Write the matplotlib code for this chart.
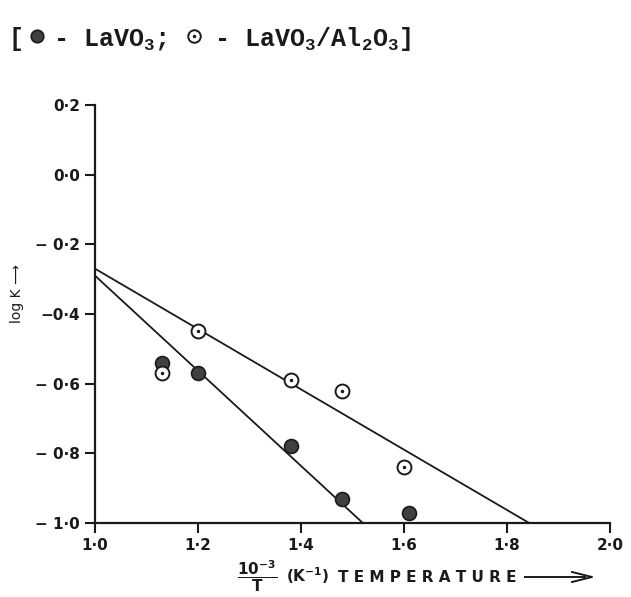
import matplotlib.pyplot as plt

# data
x_lavo3 = [1.13, 1.20, 1.38, 1.48, 1.61]
logk_lavo3 = [-0.54, -0.57, -0.78, -0.93, -0.97]

x_al2o3 = [1.13, 1.20, 1.38, 1.48, 1.60]
logk_al2o3 = [-0.57, -0.45, -0.59, -0.62, -0.84]

# hand drawn straight lines (end points)
fit_lavo3_x = [1.0, 1.52]
fit_lavo3_y = [-0.29, -1.0]
fit_al2o3_x = [1.0, 1.843]
fit_al2o3_y = [-0.27, -1.0]

xticks = [1.0, 1.2, 1.4, 1.6, 1.8, 2.0]
xtick_labels = ["1·0", "1·2", "1·4", "1·6", "1·8", "2·0"]
yticks = [-1.0, -0.8, -0.6, -0.4, -0.2, 0.0, 0.2]
ytick_labels = ["− 1·0", "− 0·8", "− 0·6", "−0·4", "− 0·2", "0·0", "0·2"]

ink = '#1a1a1a'
dark = '#404040'

plt.rcParams['mathtext.fontset'] = 'custom'
plt.rcParams['mathtext.rm'] = 'Liberation Mono:bold'
plt.rcParams['mathtext.it'] = 'Liberation Mono:bold'
plt.rcParams['mathtext.tt'] = 'Liberation Mono:bold'

fig = plt.figure(figsize=(6.31, 5.97), dpi=100)
ax = fig.add_axes([0.1506, 0.1240, 0.8161, 0.7001])

ax.plot(fit_al2o3_x, fit_al2o3_y, color=ink, lw=1.3)
ax.plot(fit_lavo3_x, fit_lavo3_y, color=ink, lw=1.3)

ax.plot(x_lavo3, logk_lavo3, 'o', ms=10, mfc=dark, mec=ink, mew=1.2, zorder=3)
ax.plot(x_al2o3, logk_al2o3, 'o', ms=10, mfc='white', mec=ink, mew=1.4, zorder=3)
ax.plot(x_al2o3, logk_al2o3, '.', ms=3, color=ink, zorder=4)

ax.set_xlim(1.0, 2.0)
ax.set_ylim(-1.0, 0.2)
ax.set_xticks(xticks)
ax.set_xticklabels(xtick_labels)
ax.set_yticks(yticks)
ax.set_yticklabels(ytick_labels)
ax.tick_params(direction='out', length=7, width=1.5, labelsize=11, colors=ink)
ax.tick_params(axis='x', pad=4)
ax.tick_params(axis='y', pad=4)
for lab in ax.get_xticklabels() + ax.get_yticklabels():
    lab.set_fontweight('bold')

ax.spines['top'].set_visible(False)
ax.spines['right'].set_visible(False)
for s in ['left', 'bottom']:
    ax.spines[s].set_linewidth(1.6)
    ax.spines[s].set_color(ink)

ax.set_ylabel("log K ⟶", fontsize=10, color=ink)
ax.yaxis.set_label_coords(-0.138, 0.55)

# x axis title, written in pieces to follow the wide lettering of the scan
base = 1 - 582 / 597
fig.text(237 / 631, base, r"$\dfrac{\mathbf{10^{-3}}}{\mathbf{T}}$", fontsize=11,
         color=ink, math_fontfamily='dejavusans', va='baseline', ha='left')
fig.text(286 / 631, base, r"(K$^{\mathbf{-1}}$)", fontsize=11, fontweight='bold',
         color=ink, math_fontfamily='dejavusans', va='baseline', ha='left')
fig.text(338 / 631, base, "T E M P E R A T U R E", fontsize=11, fontweight='bold',
         color=ink, va='baseline', ha='left')
fig.add_artist(plt.Line2D([525 / 631, 585 / 631], [1 - 577 / 597, 1 - 577 / 597], color=ink, lw=1.4))
fig.add_artist(plt.Line2D([572 / 631, 592 / 631, 572 / 631],
                          [1 - 572 / 597, 1 - 577 / 597, 1 - 582 / 597], color=ink, lw=1.4))

# key line at the top; the two symbols are drawn as markers in the gaps
ty = 0.935
fig.text(0.012, ty, "[  - LaVO$_3$;   - LaVO$_3$/Al$_2$O$_3$]",
         fontsize=18, fontweight='bold', family='Liberation Mono',
         color=ink, math_fontfamily='custom', va='center', ha='left')
fig.add_artist(plt.Line2D([37 / 631], [ty + 0.004], marker='o', ms=9, mfc=dark, mec=ink, mew=1.2))
fig.add_artist(plt.Line2D([194 / 631], [ty + 0.004], marker='o', ms=9, mfc='white', mec=ink, mew=1.4))
fig.add_artist(plt.Line2D([194 / 631], [ty + 0.004], marker='.', ms=3, color=ink))

fig.savefig("out.png", dpi=100)
